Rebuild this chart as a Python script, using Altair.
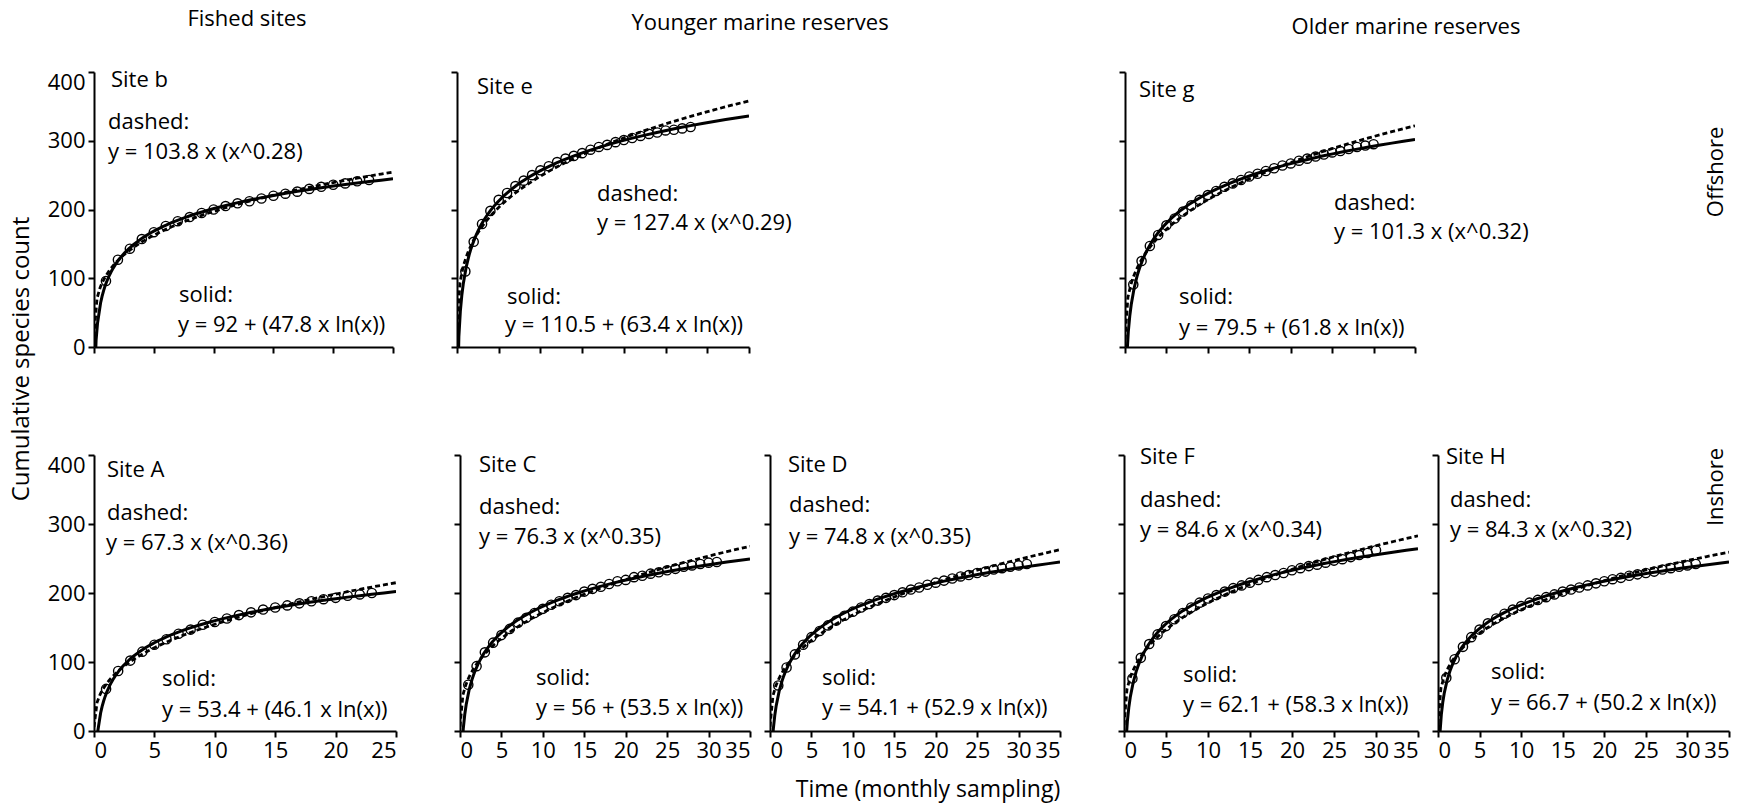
import altair as alt
import pandas as pd

# ---------------- data ----------------
site_names = ["Site b", "Site e", "Site g", "Site A", "Site C", "Site D", "Site F", "Site H"]
axis_max = [25, 35, 35, 25, 35, 35, 35, 35]

count_b = [96, 127, 143, 157, 167, 176, 183, 189, 195, 200, 205, 209, 212, 216, 220, 223,
           226, 230, 233, 236, 238, 241, 243]
count_e = [110, 153, 179, 198, 214, 224, 234, 242, 250, 257, 263, 269, 274, 278, 282, 287,
           291, 294, 298, 301, 304, 307, 310, 312, 315, 316, 318, 320]
count_g = [91, 125, 147, 163, 177, 187, 197, 206, 214, 221, 227, 233, 238, 243, 248, 252,
           256, 260, 264, 267, 271, 274, 277, 280, 283, 285, 288, 291, 293, 295]
count_A = [61, 87, 102, 115, 125, 133, 141, 147, 154, 158, 163, 168, 172, 176, 179, 182,
           185, 188, 191, 193, 196, 198, 200]
count_C = [67, 94, 114, 128, 139, 148, 157, 164, 171, 177, 183, 188, 193, 197, 202, 206,
           209, 213, 217, 219, 223, 225, 228, 230, 233, 235, 238, 240, 242, 244, 245]
count_D = [66, 92, 111, 125, 136, 145, 153, 160, 167, 173, 179, 184, 189, 193, 197, 201,
           205, 208, 212, 215, 218, 221, 224, 226, 229, 231, 234, 236, 238, 240, 242]
count_F = [76, 106, 126, 140, 152, 162, 171, 179, 186, 192, 197, 202, 207, 211, 215, 219,
           223, 226, 229, 233, 236, 239, 241, 244, 247, 249, 252, 255, 258, 262]
count_H = [77, 104, 122, 136, 147, 156, 163, 170, 176, 181, 186, 190, 194, 198, 202, 205,
           208, 211, 214, 217, 220, 222, 225, 227, 229, 231, 234, 236, 238, 240, 242]

dashed_eq = ["y = 103.8 x (x^0.28)", "y = 127.4 x (x^0.29)", "y = 101.3 x (x^0.32)",
             "y = 67.3 x (x^0.36)", "y = 76.3 x (x^0.35)", "y = 74.8 x (x^0.35)",
             "y = 84.6 x (x^0.34)", "y = 84.3 x (x^0.32)"]
solid_eq = ["y = 92 + (47.8 x ln(x))", "y = 110.5 + (63.4 x ln(x))", "y = 79.5 + (61.8 x ln(x))",
            "y = 53.4 + (46.1 x ln(x))", "y = 56 + (53.5 x ln(x))", "y = 54.1 + (52.9 x ln(x))",
            "y = 62.1 + (58.3 x ln(x))", "y = 66.7 + (50.2 x ln(x))"]

FONT = "Open Sans"
FS = 22

dummy = pd.DataFrame({"k": [0]})


def label(text, px, py, angle=0, align="left", size=FS):
    return alt.Chart(dummy).mark_text(
        text=text, align=align, baseline="middle", font=FONT, fontSize=size,
        color="black", angle=angle
    ).encode(x=alt.value(px), y=alt.value(py))


def panel(i, counts, w, h, pos, show_x, show_y, extras=()):
    xmax = axis_max[i]
    df = pd.DataFrame({"month": list(range(1, len(counts) + 1)), "count": counts})
    xs = alt.Scale(domain=[0, xmax], nice=False, zero=True)
    ys = alt.Scale(domain=[0, 400], nice=False)
    xax = alt.Axis(values=list(range(0, xmax + 1, 5)), labels=show_x, title=None,
                   labelFlush=True)
    yax = alt.Axis(values=[0, 100, 200, 300, 400], labels=show_y, title=None,
                   labelBaseline={"condition": {"test": "datum.value == 400", "value": "top"},
                                  "value": "middle"})
    enc = dict(x=alt.X("month:Q", scale=xs, axis=xax), y=alt.Y("count:Q", scale=ys, axis=yax))
    base = alt.Chart(df)
    solid = base.transform_regression(
        "month", "count", method="log", extent=[0.05, xmax]
    ).mark_line(color="black", strokeWidth=3, clip=True).encode(**enc)
    dashed = base.transform_regression(
        "month", "count", method="pow", extent=[0.001, xmax]
    ).mark_line(color="black", strokeWidth=2.8, strokeDash=[5, 3], clip=True).encode(**enc)
    pts = base.mark_point(shape="circle", filled=False, color="black", size=85,
                          strokeWidth=1.4, opacity=1).encode(**enc)
    (sx, sy), (dx, dy), (fx, fy), (lx, ly), (gx, gy) = pos
    texts = [
        label(site_names[i], sx, sy),
        label("dashed:", dx, dy),
        label(dashed_eq[i], fx, fy),
        label("solid:", lx, ly),
        label(solid_eq[i], gx, gy),
    ]
    return alt.layer(solid, dashed, pts, *texts, *extras).properties(width=w, height=h)


def spacer(w, h):
    return alt.Chart(dummy).mark_point(opacity=0).encode(
        x=alt.value(0), y=alt.value(0)).properties(width=w, height=h)


TOP_H = 275
BOT_H = 276
GAP = 20

p_b = panel(0, count_b, 299, TOP_H,
            [(17, 8), (14, 50), (14, 80), (85, 223), (84, 253)], False, True,
            [label("Fished sites", 153, -53, align="center")])
p_e = panel(1, count_e, 292, TOP_H,
            [(20, 15), (140, 122), (140, 151), (50, 225), (48, 253)], False, False,
            [label("Younger marine reserves", 303, -49, align="center")])
p_g = panel(2, count_g, 290, TOP_H,
            [(14, 18), (209, 131), (209, 160), (54, 225), (54, 256)], False, False,
            [label("Older marine reserves", 281, -45, align="center"),
             label("Offshore", 591, 100, angle=270, align="center")])
p_A = panel(3, count_A, 302, BOT_H,
            [(13, 15), (13, 58), (12, 88), (68, 224), (68, 255)], True, True,
            [label("Cumulative species count", -72, -96, angle=270, align="center", size=24)])
p_C = panel(4, count_C, 290, BOT_H,
            [(19, 10), (19, 52), (19, 82), (76, 223), (76, 253)], True, False)
p_D = panel(5, count_D, 290, BOT_H,
            [(18, 10), (19, 50), (19, 82), (52, 223), (52, 253)], True, False,
            [label("Time (monthly sampling)", 158, 335, align="center", size=23)])
p_F = panel(6, count_F, 294, BOT_H,
            [(16, 2), (16, 45), (16, 75), (59, 220), (59, 250)], True, False)
p_H = panel(7, count_H, 291, BOT_H,
            [(8, 2), (12, 45), (12, 75), (53, 217), (53, 248)], True, False,
            [label("Inshore", 278, 32, angle=270, align="center")])

top_row = alt.hconcat(p_b, spacer(24, TOP_H), p_e, spacer(336, TOP_H), p_g,
                      spacing=GAP, bounds="flush")
bottom_row = alt.hconcat(p_A, spacer(24, BOT_H), p_C, p_D, spacer(24, BOT_H), p_F, p_H,
                         spacing=GAP, bounds="flush")

# nested rows count as zero height under "flush", so the row gap includes the top row height
chart = alt.vconcat(top_row, bottom_row, spacing=TOP_H + 108, bounds="flush").properties(
    padding={"left": 9, "top": 8, "right": 3, "bottom": 5}
).configure_view(stroke=None).configure_axis(
    domainColor="black", domainWidth=2, tickColor="black", tickWidth=2, tickSize=6,
    labelFont=FONT, labelFontSize=FS, labelColor="black", labelPadding=3,
    labelOverlap=False, labelBound=False, grid=False
)

chart.save("out.html", embed_options={"renderer": "svg", "actions": False})
